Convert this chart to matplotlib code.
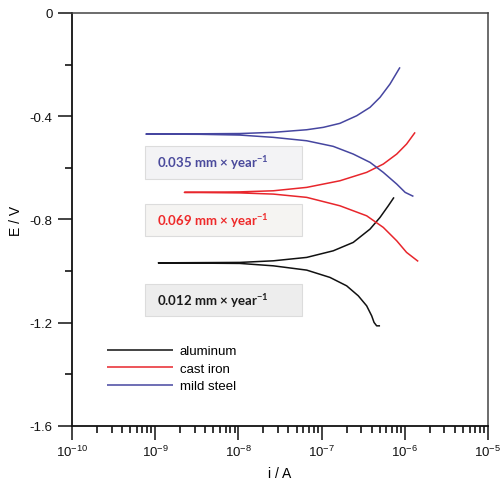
import matplotlib
matplotlib.use("Agg")
import matplotlib.pyplot as plt
from matplotlib.ticker import FixedLocator, LogFormatterSciNotation, MultipleLocator, NullFormatter
from matplotlib.patches import Rectangle

# ---- data ----
series_names = ["aluminum", "cast iron", "mild steel"]

# each curve: cathodic tip -> corrosion point -> anodic tip
al_i = [5.04e-7, 4.59e-7, 4.27e-7, 4.00e-7, 3.48e-7, 2.76e-7, 2.00e-7, 1.26e-7, 6.62e-8, 2.63e-8, 1.04e-8,
        1.09e-9,
        1.04e-8, 2.63e-8, 6.62e-8, 1.38e-7, 2.40e-7, 3.82e-7, 5.04e-7, 6.33e-7, 7.41e-7]
al_E = [-1.212, -1.212, -1.1988, -1.1733, -1.1345, -1.0957, -1.0570, -1.0244, -0.9961, -0.9795, -0.9702,
        -0.968,
        -0.9663, -0.9601, -0.9469, -0.9213, -0.8888, -0.8372, -0.7919, -0.7469, -0.7143]

iron_i = [1.45e-6, 1.05e-6, 8.00e-7, 5.51e-7, 3.48e-7, 1.66e-7, 6.62e-8, 2.63e-8, 1.04e-8,
          2.24e-9,
          1.04e-8, 2.63e-8, 6.62e-8, 1.66e-7, 3.48e-7, 5.51e-7, 8.00e-7, 1.05e-6, 1.33e-6]
iron_E = [-0.9624, -0.9275, -0.8826, -0.8306, -0.7857, -0.7469, -0.7143, -0.7016, -0.697,
          -0.695,
          -0.693, -0.6888, -0.6756, -0.650, -0.6174, -0.5853, -0.5465, -0.5078, -0.4624]

steel_i = [1.27e-6, 1.01e-6, 8.00e-7, 5.51e-7, 3.82e-7, 2.40e-7, 1.38e-7, 6.62e-8, 2.63e-8, 1.04e-8, 3.45e-9,
           7.74e-10,
           3.45e-9, 1.04e-8, 2.63e-8, 6.62e-8, 1.05e-7, 1.66e-7, 2.64e-7, 3.82e-7, 5.04e-7, 6.64e-7, 8.75e-7]
steel_E = [-0.7105, -0.695, -0.6628, -0.6174, -0.5787, -0.5465, -0.5167, -0.4950, -0.4818, -0.4729, -0.470,
           -0.469,
           -0.468, -0.467, -0.4624, -0.4523, -0.4430, -0.4275, -0.3981, -0.3655, -0.3267, -0.2752, -0.2105]

rate_labels = ["0.012 mm × year", "0.069 mm × year", "0.035 mm × year"]

x_major = [1e-10, 1e-9, 1e-8, 1e-7, 1e-6, 1e-5]

colors = ["#111111", "#e8262c", "#4646a0"]
text_colors = ["#1a1a1a", "#ee2a2a", "#4a4a9c"]

plt.rcParams['font.family'] = ['Liberation Sans', 'DejaVu Sans']

fig = plt.figure(figsize=(5.0, 4.81), dpi=100)
ax = fig.add_axes([0.144, 0.1123, 0.832, 0.8586])

lines = []
for xi, yi, c, n in zip([al_i, iron_i, steel_i], [al_E, iron_E, steel_E], colors, series_names):
    l, = ax.plot(xi, yi, color=c, lw=1.1, label=n, solid_joinstyle='round', solid_capstyle='butt')
    lines.append(l)

ax.set_xscale('log')
ax.set_xlim(1e-10, 1e-5)
ax.set_ylim(-1.6, 0)

minor_x = [m * d for d in x_major[:-1] for m in range(2, 10)]
ax.xaxis.set_major_locator(FixedLocator(x_major))
ax.xaxis.set_minor_locator(FixedLocator(minor_x))
ax.xaxis.set_major_formatter(LogFormatterSciNotation())
ax.xaxis.set_minor_formatter(NullFormatter())

ax.yaxis.set_major_locator(MultipleLocator(0.4))
ax.yaxis.set_minor_locator(MultipleLocator(0.2))
ax.yaxis.set_major_formatter(plt.FuncFormatter(lambda v, p: "0" if abs(v) < 1e-9 else ("%.1f" % v)))

ax.tick_params(which='major', direction='out', length=10, width=1.1, labelsize=9.5, colors='#111', pad=4,
               top=False, right=False)
ax.tick_params(which='minor', direction='out', length=5, width=1.1, top=False, right=False)
ax.tick_params(axis='x', which='major', pad=3)

for s in ['left', 'bottom']:
    ax.spines[s].set_linewidth(1.3)
    ax.spines[s].set_color('#111')
for s in ['top', 'right']:
    ax.spines[s].set_linewidth(1.1)
    ax.spines[s].set_color('#444')

ax.set_xlabel("i / A", fontsize=10, labelpad=5)
ax.set_ylabel("E / V", fontsize=10, labelpad=5)

# rate boxes (axes fraction)
box_y = [(0.266, 0.344), (0.460, 0.5375), (0.598, 0.678)]
box_face = ["#ededed", "#f5f4f2", "#f3f3f5"]
for (y0, y1), lab, tc, fc in zip(box_y, rate_labels, text_colors, box_face):
    r = Rectangle((0.1755, y0), 0.377, y1 - y0, transform=ax.transAxes,
                  facecolor=fc, edgecolor='#dcdcdc', lw=0.8, zorder=1)
    ax.add_patch(r)
    ax.text(0.204, (y0 + y1) / 2, lab + r"$^{\mathdefault{-1}}$", transform=ax.transAxes,
            fontsize=9.5, fontweight='bold', color=tc, va='center', ha='left',
            family=['Lato', 'DejaVu Sans'], zorder=2)

leg = ax.legend(handles=lines, loc='upper left', bbox_to_anchor=(0.084, 0.196), frameon=False,
                fontsize=9.5, handlelength=5.0, handletextpad=0.5, labelspacing=0.4,
                borderpad=0, borderaxespad=0)

fig.savefig("out.png", dpi=100)
